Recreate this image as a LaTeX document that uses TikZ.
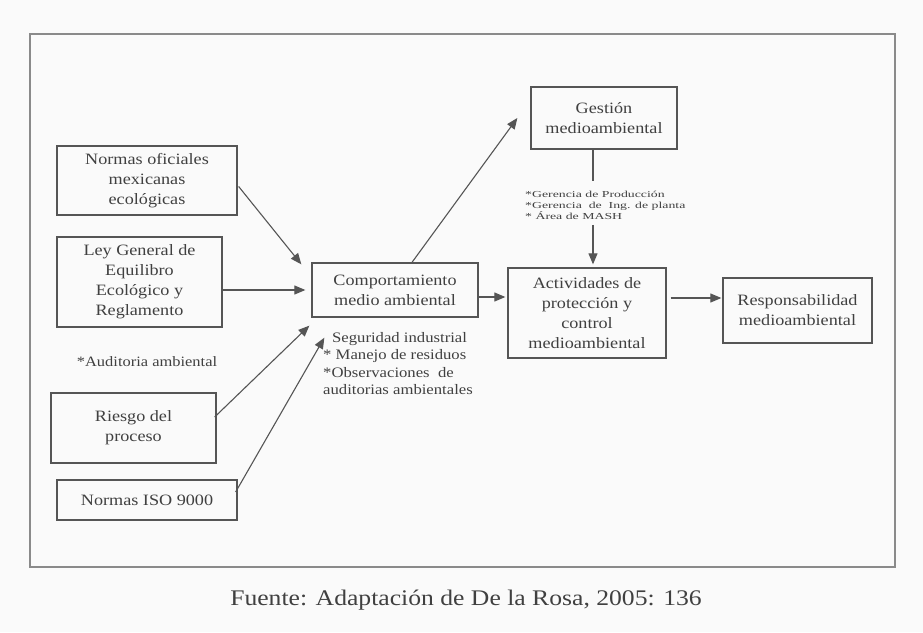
\documentclass[tikz,border=0pt]{standalone}
\usepackage{fontspec}
\setmainfont{Liberation Serif}[FakeStretch=1.15]
\newfontfamily\widefont{Liberation Serif}[FakeStretch=1.5]
\usetikzlibrary{arrows.meta,calc}
\definecolor{bgcol}{HTML}{FAFAFA}
\definecolor{linecol}{HTML}{555555}
\definecolor{framecol}{HTML}{8A8A8A}
\definecolor{txtcol}{HTML}{404040}
\tikzset{
  boxnode/.style={draw=linecol, line width=1.3pt, align=center, inner sep=0pt,
    text=txtcol, font=\fontsize{15.8}{20}\selectfont},
  conn/.style={draw=linecol, line width=1.1pt},
  arr/.style={conn, -{Triangle[length=11pt,width=9pt]}},
  notetext/.style={text=txtcol, inner sep=0pt, align=left},
}
\begin{document}
\begin{tikzpicture}[x=1pt,y=-1pt]
\useasboundingbox (0,0) rectangle (923,632);
\fill[bgcol] (0,0) rectangle (923,632);
\node[draw=framecol, line width=2pt, minimum width=865pt, minimum height=533pt, inner sep=0pt] (frame) at (462.5,300.5) {};

\node[boxnode, minimum width=180pt, minimum height=69pt] (n1) at (147,180.5) {Normas oficiales\\mexicanas\\ecológicas};
\node[boxnode, minimum width=165pt, minimum height=90pt] (n2) at (139.5,282) {Ley General de\\Equilibro\\Ecológico y\\Reglamento};
\node[boxnode, minimum width=165pt, minimum height=70pt] (n3) at (133.5,428) {Riesgo del\\proceso};
\node[boxnode, minimum width=180pt, minimum height=40pt] (n4) at (147,500) {Normas ISO 9000};
\node[boxnode, minimum width=166pt, minimum height=54pt] (cm) at (395,290) {Comportamiento\\medio ambiental};
\node[boxnode, minimum width=146pt, minimum height=62pt] (ge) at (604,118) {Gestión\\medioambiental};
\node[boxnode, minimum width=158pt, minimum height=90pt] (ac) at (587,313) {Actividades de\\protección y\\control\\medioambiental};
\node[boxnode, minimum width=149pt, minimum height=65pt] (re) at (797.5,310.5) {Responsabilidad\\medioambiental};

\node[notetext, font=\fontsize{14.3}{17}\selectfont] (aud) at (147,362) {*Auditoria ambiental};
\node[notetext, anchor=north west, font=\fontsize{14.5}{17.5}\selectfont] (cn) at (323,332)
  {\hspace*{9pt}Seguridad industrial\\* Manejo de residuos\\*Observaciones\ \ de\\auditorias ambientales};
\node[notetext, anchor=north west, font=\widefont\fontsize{9.2}{11}\selectfont] (gl) at (525,191)
  {*Gerencia de Producción\\*Gerencia\ \ de\ \ Ing. de planta\\* Área de MASH};
\node[text=txtcol, inner sep=0pt, font=\fontsize{22.3}{26}\selectfont] (cap) at (466,600) {Fuente: Adaptación de De la Rosa, 2005: 136};

\coordinate (vx) at ($(ge.south)+(-11,0)$);
\coordinate (hy) at ($(cm.east)+(0,7)$);

\draw[arr] ($(n1.east)+(1,6)$) -- ($(cm.north west)+(-10,2)$);
\draw[arr] (n2.east |- cm.west) -- ($(cm.west)+(-6,0)$);
\draw[arr] ($(n3.east)+(-2,-11)$) -- ($(cm.south west)+(-2,8)$);
\draw[arr] ($(n4.east)+(-2,-8)$) -- ($(cm.south west)+(13,20)$);
\draw[arr] ($(cm.north)+(17,0)$) -- ($(ge.west)+(-13,0)$);
\draw[arr] (hy) -- ($(ac.west |- hy)+(-2,0)$);
\draw[conn] (vx) -- ($(vx)+(0,31)$);
\draw[arr] ($(vx |- gl.south)+(0,5)$) -- ($(vx |- ac.north)+(0,-3)$);
\draw[arr] ($(ac.east)+(4,-15)$) -- ($(re.west)+(-1,-12.5)$);
\end{tikzpicture}
\end{document}
